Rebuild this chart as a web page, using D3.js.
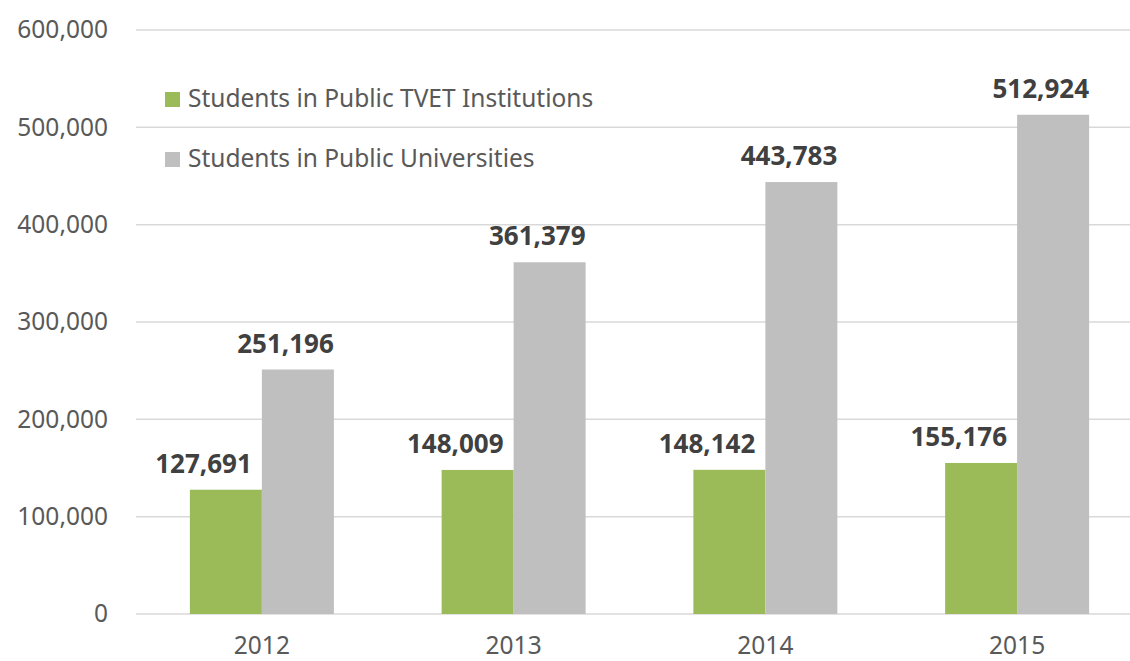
<!DOCTYPE html>
<html lang="en">
<head>
    <meta charset="UTF-8">
    <title>Students in Public TVET Institutions and Universities</title>
    <style>
        body {
            margin: 0;
            background: #fff;
            font-family: 'Noto Sans', 'Open Sans', sans-serif;
        }
        svg { display: block; }
        .tick text { fill: #595959; }
    </style>
</head>
<body>
    <svg width="1130" height="661"></svg>
    <script src="https://d3js.org/d3.v7.min.js"></script>
    <script>
        // Data
        const years = ["2012", "2013", "2014", "2015"];
        const tvet = [127691, 148009, 148142, 155176];
        const universities = [251196, 361379, 443783, 512924];
        const seriesNames = ["Students in Public TVET Institutions", "Students in Public Universities"];
        const seriesColors = ["#9bbb59", "#bfbfbf"];
        const yTicks = [0, 100000, 200000, 300000, 400000, 500000, 600000];

        const width = 1130, height = 661;
        const svg = d3.select("svg");

        // x scale runs a little past the picture's right edge, as in the reference
        const x = d3.scaleBand()
            .domain(years)
            .range([136, 1143])
            .paddingInner(0.43)
            .paddingOuter(0.215);

        const y = d3.scaleLinear()
            .domain([0, 600000])
            .range([614, 30]);

        const fmt = d3.format(",");

        // Gridlines
        svg.append("g")
            .selectAll("line")
            .data(yTicks)
            .join("line")
            .attr("x1", 136)
            .attr("x2", width)
            .attr("y1", d => y(d))
            .attr("y2", d => y(d))
            .attr("stroke", "#d9d9d9")
            .attr("stroke-width", 1.5);

        // Y axis labels
        const yAxis = svg.append("g")
            .attr("transform", "translate(108,0)")
            .call(d3.axisLeft(y).tickValues(yTicks).tickFormat(fmt).tickSize(0).tickPadding(0));
        yAxis.select(".domain").remove();
        yAxis.selectAll("text")
            .attr("font-size", 24.5)
            .attr("font-family", "'Noto Sans', sans-serif");

        // X axis labels
        const xAxis = svg.append("g")
            .attr("transform", "translate(0,654)")
            .call(d3.axisBottom(x).tickSize(0).tickPadding(0));
        xAxis.select(".domain").remove();
        xAxis.selectAll("text")
            .attr("font-size", 24.5)
            .attr("dy", 0)
            .attr("font-family", "'Noto Sans', sans-serif");

        // Bars
        const bw = 72;
        const groups = [tvet, universities];
        // label offset from the bar's right edge (green labels sit left of the grey bar)
        const labelShift = [-10, 0];
        groups.forEach((vals, s) => {
            const g = svg.append("g");
            g.selectAll("rect")
                .data(years)
                .join("rect")
                .attr("x", (d) => x(d) + x.bandwidth() / 2 - bw + s * bw)
                .attr("y", (d, i) => y(vals[i]))
                .attr("width", bw)
                .attr("height", (d, i) => y(0) - y(vals[i]))
                .attr("fill", seriesColors[s]);

            g.selectAll("text")
                .data(years)
                .join("text")
                .attr("x", (d) => x(d) + x.bandwidth() / 2 + s * bw + labelShift[s])
                .attr("y", (d, i) => y(vals[i]) - 17)
                .attr("text-anchor", "end")
                .attr("font-size", 26)
                .attr("font-weight", "bold")
                .attr("fill", "#404040")
                .text((d, i) => fmt(vals[i]));
        });

        // Legend
        const legend = svg.append("g");
        seriesNames.forEach((name, i) => {
            const ly = 99.5 + i * 60;
            legend.append("rect")
                .attr("x", 165)
                .attr("y", ly - 7.5)
                .attr("width", 15)
                .attr("height", 15)
                .attr("fill", seriesColors[i]);
            legend.append("text")
                .attr("x", 188)
                .attr("y", ly)
                .attr("dy", "0.3em")
                .attr("font-size", 24.5)
                .attr("fill", "#595959")
                .text(name);
        });
    </script>
</body>
</html>
